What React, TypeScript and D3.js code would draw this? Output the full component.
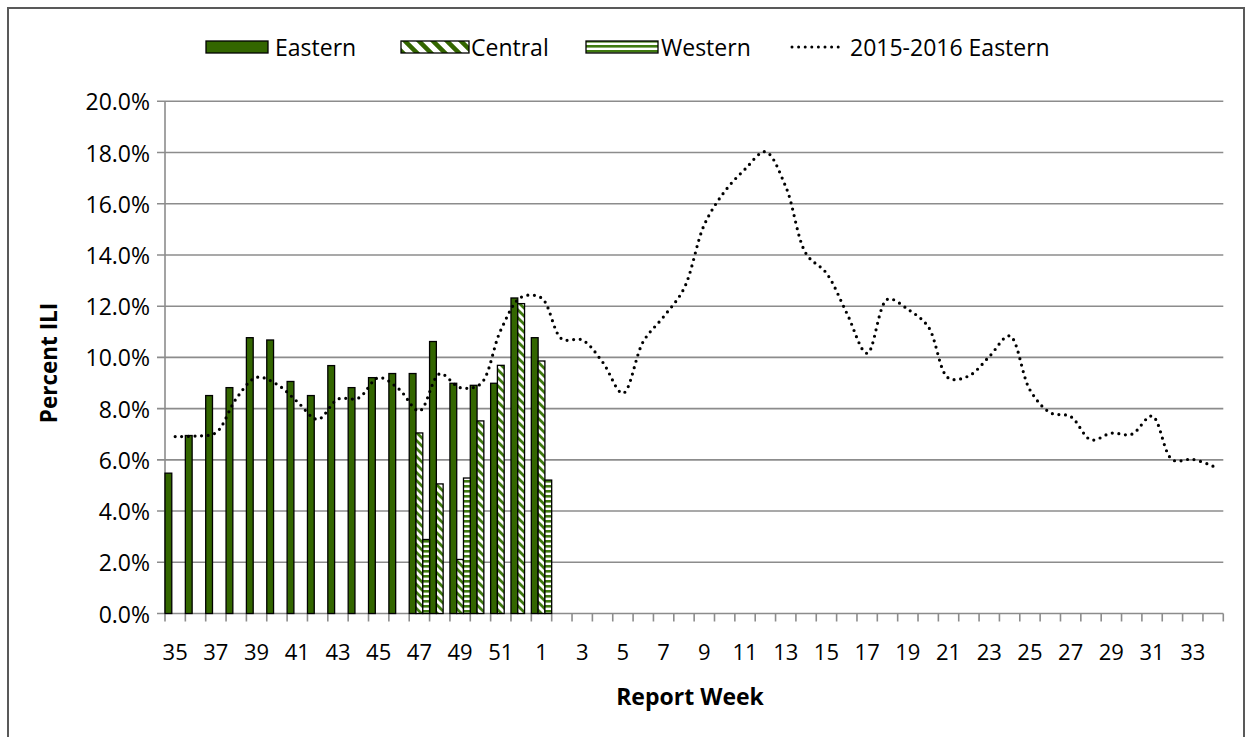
import React from "react";
import * as d3 from "d3";

const categories: string[] = [
  "35","36","37","38","39","40","41","42","43","44","45","46","47","48","49","50","51","52",
  "1","2","3","4","5","6","7","8","9","10","11","12","13","14","15","16","17","18","19","20",
  "21","22","23","24","25","26","27","28","29","30","31","32","33","34",
];

const easternValues: (number | null)[] = [
  5.48, 6.95, 8.51, 8.82, 10.77, 10.68, 9.06, 8.51, 9.68, 8.82, 9.21, 9.37, 9.37, 10.62, 8.99, 8.91, 8.99, 12.32, 10.77,
];
const centralValues: (number | null)[] = [
  null, null, null, null, null, null, null, null, null, null, null, null, 7.05, 5.06, 2.11, 7.52, 9.69, 12.1, 9.86,
];
const westernValues: (number | null)[] = [
  null, null, null, null, null, null, null, null, null, null, null, null, 2.89, null, 5.29, null, null, null, 5.21,
];
const eastern2015Values: number[] = [
  6.91, 6.93, 7.06, 8.39, 9.22, 8.95, 8.27, 7.58, 8.37, 8.41, 9.21, 8.76, 7.91, 9.36, 8.82, 8.96, 11.07, 12.35,
  12.32, 10.72, 10.68, 9.82, 8.6, 10.62, 11.59, 12.69, 15.18, 16.48, 17.35, 18.03, 16.67, 14.05, 13.29, 11.73,
  10.16, 12.27, 11.88, 11.2, 9.19, 9.28, 10.03, 10.84, 8.73, 7.84, 7.69, 6.78, 7.04, 7.0, 7.71, 6.0, 6.02, 5.75,
];
const yTicks: number[] = [0, 2, 4, 6, 8, 10, 12, 14, 16, 18, 20];
const seriesNames: string[] = ["Eastern", "Central", "Western"];
const lineName = "2015-2016 Eastern";

const FONT = "'Open Sans', Carlito, Calibri, Lato, sans-serif";
const GREEN = "#336600";
const GRID = "#8c8c8c";

export default function App() {
  const W = 1252, H = 737;
  const left = 165, right = 1223.3, top = 101.3, bottom = 613.5;

  const x = d3.scaleBand<string>().domain(categories).range([left, right]).paddingInner(0).paddingOuter(0);
  const sub = d3.scaleBand<string>().domain(seriesNames).range([0, x.bandwidth()]).padding(0);
  const y = d3.scaleLinear().domain([0, 20]).range([bottom, top]);

  const seriesData: { name: string; values: (number | null)[]; fill: string }[] = [
    { name: "Eastern", values: easternValues, fill: GREEN },
    { name: "Central", values: centralValues, fill: "url(#diagPat)" },
    { name: "Western", values: westernValues, fill: "url(#horizPat)" },
  ];

  const line = d3
    .line<number>()
    .x((_, i) => (x(categories[i]) as number) + x.bandwidth() / 2)
    .y((v) => y(v))
    .curve(d3.curveCatmullRom.alpha(0.5));

  const boundaries = d3.range(categories.length + 1).map((i) => left + i * x.bandwidth());

  const legendY = 47;
  const legendItems = [
    { name: "Eastern", x0: 206, x1: 268, fill: GREEN, tx: 275 },
    { name: "Central", x0: 401, x1: 469, fill: "url(#diagPatL)", tx: 471 },
    { name: "Western", x0: 586, x1: 658, fill: "url(#horizPat)", tx: 661 },
  ];

  return (
    <svg width={W} height={H} style={{ position: "absolute", left: 0, top: 0, background: "#fff" }} fontFamily={FONT}>
      <defs>
        <pattern id="diagPat" patternUnits="userSpaceOnUse" width={8} height={8}>
          <rect width={8} height={8} fill="#fff" />
          <path d="M0,0 L8,8 M-4,4 L4,12 M4,-4 L12,4" stroke="#3f7a0f" strokeWidth={2.8} />
        </pattern>
        <pattern id="diagPatL" patternUnits="userSpaceOnUse" width={14} height={14}>
          <rect width={14} height={14} fill="#fff" />
          <path d="M0,0 L14,14 M-7,7 L7,21 M7,-7 L21,7" stroke={GREEN} strokeWidth={4.5} />
        </pattern>
        <pattern id="horizPat" patternUnits="userSpaceOnUse" width={8} height={5}>
          <rect width={8} height={5} fill="#fff" />
          <rect y={0} width={8} height={2.6} fill="#3f7a0f" />
        </pattern>
      </defs>

      <rect x={8} y={8} width={1236} height={745} fill="#fff" stroke="#595959" strokeWidth={2} />

      {/* gridlines */}
      {yTicks.map((t) => (
        <line key={"g" + t} x1={left - 8} x2={right} y1={y(t)} y2={y(t)} stroke={GRID} strokeWidth={1.6} />
      ))}
      {/* y axis */}
      <line x1={left} x2={left} y1={top} y2={bottom} stroke={GRID} strokeWidth={1.6} />
      {yTicks.map((t) => (
        <text key={"yl" + t} x={150} y={y(t)} textAnchor="end" dominantBaseline="central" fontSize={23} fill="#000">
          {t.toFixed(1) + "%"}
        </text>
      ))}
      {/* x ticks */}
      {boundaries.map((bx, i) => (
        <line key={"xt" + i} x1={bx} x2={bx} y1={bottom} y2={bottom + 8} stroke={GRID} strokeWidth={1.6} />
      ))}
      {categories.map((c, i) =>
        i % 2 === 0 ? (
          <text key={"xl" + c} x={(x(c) as number) + x.bandwidth() / 2} y={651} textAnchor="middle" dominantBaseline="central" fontSize={22} fill="#000">
            {c}
          </text>
        ) : null
      )}

      {/* bars */}
      {seriesData.map((s) =>
        s.values.map((v, i) =>
          v == null ? null : (
            <rect
              key={s.name + i}
              x={(x(categories[i]) as number) + (sub(s.name) as number)}
              y={y(v)}
              width={sub.bandwidth()}
              height={y(0) - y(v)}
              fill={s.fill}
              stroke="#000"
              strokeWidth={1.3}
            />
          )
        )
      )}

      {/* 2015-2016 line */}
      <path
        d={line(eastern2015Values) || ""}
        fill="none"
        stroke="#000"
        strokeWidth={3.2}
        strokeDasharray="0 6.6"
        strokeLinecap="round"
      />

      {/* axis titles */}
      <text x={48} y={363} transform="rotate(-90 48 363)" textAnchor="middle" dominantBaseline="central" fontSize={22.5} fontWeight="bold">
        Percent ILI
      </text>
      <text x={690} y={696} textAnchor="middle" dominantBaseline="central" fontSize={23} fontWeight="bold">
        Report Week
      </text>

      {/* legend */}
      {legendItems.map((it) => (
        <g key={it.name}>
          <rect x={it.x0} y={legendY - 6} width={it.x1 - it.x0} height={12} fill={it.fill} stroke="#000" strokeWidth={1.3} />
          <text x={it.tx} y={legendY} dominantBaseline="central" fontSize={23}>
            {it.name}
          </text>
        </g>
      ))}
      <line x1={792} x2={842} y1={legendY} y2={legendY} stroke="#000" strokeWidth={3} strokeDasharray="0 6.6" strokeLinecap="round" />
      <text x={850} y={legendY} dominantBaseline="central" fontSize={23}>
        {lineName}
      </text>
    </svg>
  );
}
